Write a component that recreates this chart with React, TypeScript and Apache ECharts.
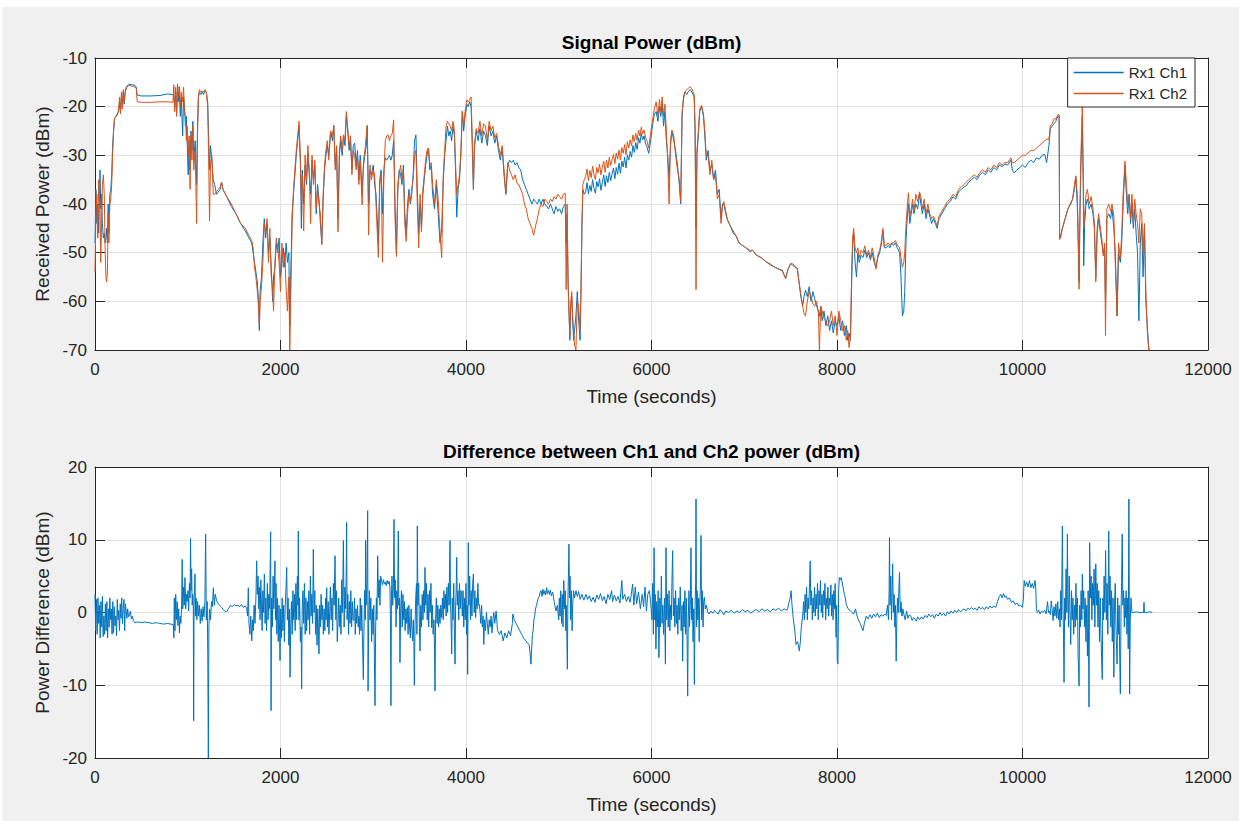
import React, { useEffect, useRef } from "react";
import * as echarts from "echarts";

// ---------- Signal power (top plot) ----------
const timeTop: number[] = [
  0, 10, 20, 30, 40, 54, 62, 70, 80, 90,
  100, 110, 118, 126, 134, 142, 150, 160, 170, 180,
  190, 200, 210, 225, 240, 255, 265, 275, 285, 295,
  305, 315, 325, 335, 345, 360, 380, 400, 430, 445,
  455, 500, 600, 700, 780, 840, 850, 860, 870, 880,
  890, 900, 910, 920, 930, 945, 955, 965, 975, 985,
  995, 1005, 1015, 1025, 1035, 1045, 1055, 1065, 1080, 1096,
  1105, 1115, 1125, 1140, 1155, 1170, 1185, 1200, 1215, 1225,
  1235, 1245, 1260, 1275, 1290, 1310, 1330, 1350, 1365, 1380,
  1420, 1470, 1520, 1570, 1620, 1660, 1690, 1705, 1720, 1735,
  1750, 1760, 1772, 1780, 1795, 1810, 1825, 1840, 1855, 1870,
  1885, 1900, 1915, 1925, 1940, 1955, 1970, 1985, 2000, 2015,
  2030, 2045, 2060, 2075, 2090, 2100, 2110, 2125, 2140, 2155,
  2170, 2185, 2200, 2215, 2225, 2235, 2250, 2265, 2280, 2295,
  2310, 2325, 2340, 2355, 2370, 2385, 2400, 2415, 2430, 2445,
  2460, 2475, 2490, 2505, 2520, 2540, 2560, 2575, 2590, 2605,
  2620, 2635, 2650, 2665, 2680, 2695, 2710, 2725, 2740, 2755,
  2770, 2785, 2800, 2815, 2830, 2845, 2860, 2880, 2895, 2910,
  2925, 2935, 2950, 2965, 2980, 3000, 3015, 3030, 3055, 3070,
  3085, 3100, 3115, 3130, 3145, 3160, 3175, 3190, 3205, 3220,
  3235, 3250, 3265, 3280, 3295, 3310, 3325, 3340, 3355, 3370,
  3385, 3400, 3415, 3430, 3445, 3460, 3475, 3490, 3505, 3520,
  3535, 3550, 3565, 3580, 3595, 3610, 3625, 3640, 3660, 3680,
  3700, 3720, 3738, 3755, 3770, 3785, 3800, 3815, 3830, 3845,
  3860, 3875, 3890, 3900, 3915, 3930, 3945, 3960, 3975, 3990,
  4010, 4025, 4040, 4055, 4070, 4080, 4090, 4110, 4130, 4150,
  4170, 4190, 4210, 4230, 4250, 4270, 4290, 4310, 4330, 4350,
  4370, 4390, 4410, 4430, 4450, 4470, 4490, 4510, 4530, 4550,
  4570, 4590, 4610, 4630, 4650, 4670, 4690, 4710, 4730, 4750,
  4770, 4790, 4810, 4830, 4850, 4870, 4890, 4910, 4930, 4950,
  4970, 4990, 5010, 5030, 5050, 5070, 5080, 5090, 5100, 5110,
  5120, 5130, 5140, 5150, 5160, 5170, 5185, 5200, 5215, 5230,
  5240, 5250, 5260, 5275,
  5290, 5305, 5320, 5335, 5350, 5365, 5380, 5395, 5410, 5425,
  5440, 5455, 5470, 5485, 5500, 5515, 5530, 5545, 5560, 5575,
  5590, 5605, 5620, 5635, 5650, 5665, 5680, 5695, 5710, 5725,
  5740, 5755, 5770, 5785, 5800, 5815, 5830, 5845, 5860, 5875,
  5890, 5905, 5920, 5935, 5950, 5970, 5990, 6010,
  6030, 6050, 6070, 6085, 6100, 6115, 6130, 6145, 6160, 6175,
  6190, 6205, 6220, 6240, 6260, 6280, 6300, 6315, 6330, 6345,
  6360, 6380, 6400, 6420, 6440, 6460, 6470, 6480, 6490, 6505,
  6520, 6540, 6560, 6575, 6590, 6610, 6630, 6650, 6670, 6690,
  6710, 6730, 6750, 6765, 6780, 6800, 6820, 6850, 6880, 6910,
  6945, 6980, 7020, 7060, 7090, 7130, 7180, 7230, 7280, 7330,
  7380, 7410, 7446, 7470, 7500, 7520, 7545, 7572, 7590, 7610,
  7630, 7645, 7660, 7680, 7700, 7720, 7740, 7760, 7780, 7800,
  7810, 7825, 7840, 7860, 7880, 7900, 7920, 7940, 7960, 7980,
  8000, 8020, 8040, 8060, 8080, 8100, 8115, 8130, 8145, 8160,
  8170, 8180, 8195, 8210, 8225, 8240, 8260, 8280, 8300, 8320,
  8340, 8360, 8380, 8400, 8420, 8440, 8460, 8480, 8495, 8510,
  8530, 8550, 8570, 8590, 8610, 8630, 8650, 8675, 8690, 8705,
  8720, 8730, 8745, 8760, 8770, 8785, 8800, 8815, 8830, 8850,
  8870, 8890, 8905, 8920, 8940, 8960, 8980, 9000, 9020, 9040,
  9060, 9080, 9100, 9130, 9160, 9190, 9220, 9250, 9280, 9310,
  9340, 9370, 9390, 9420, 9450, 9480, 9510, 9540, 9570, 9600,
  9630, 9660, 9690, 9720, 9750, 9780, 9810, 9840, 9875, 9890,
  9910, 9940, 9970, 10000, 10030, 10060, 10090, 10120, 10150, 10180,
  10210, 10240, 10260, 10285, 10300, 10320, 10340, 10360, 10380, 10395,
  10400, 10410, 10430, 10460, 10490, 10520, 10540, 10560, 10575, 10590,
  10600, 10610, 10620, 10630, 10645, 10655, 10660, 10670, 10685, 10700,
  10720, 10740, 10760, 10775, 10790, 10805, 10820, 10840, 10855, 10870,
  10885, 10895, 10910, 10930, 10950, 10965, 10985, 11000, 11020, 11035,
  11055, 11070, 11085, 11105, 11120, 11135, 11150, 11165, 11180, 11195,
  11210, 11225, 11240, 11255, 11270, 11285, 11300, 11315, 11330, 11345,
  11360, 11370,
];

const rx1Ch1: number[] = [
  -48, -37, -44, -40, -46, -33, -41, -38, -44, -47,
  -46, -48, -47, -45, -48, -40, -46, -38, -37, -34,
  -28, -25, -22.5, -22, -21.5, -21, -19, -21, -18, -20,
  -17, -19.5, -17, -16, -15.8, -15.5, -15.4, -15.5, -15.6, -16,
  -17.6, -17.8, -17.8, -17.7, -17.4, -17.5, -18, -20, -17, -21,
  -16, -19, -17, -22, -18, -26, -18, -20, -24, -22,
  -28, -34, -27, -33, -25, -29, -23, -31, -27, -36,
  -24, -18, -17, -17.5, -17, -17.5, -16.8, -17, -19, -26,
  -33, -28, -31, -35, -36, -38, -37.5, -37, -35.5, -37,
  -38.5, -40.5, -42, -44, -45.5, -47, -48, -50, -52, -54,
  -56, -59, -66, -58, -55, -48, -43, -47, -44, -50,
  -47, -53, -60, -55, -53, -48, -50, -47, -55, -52,
  -49, -53, -48, -52, -50, -65, -55, -42, -38, -34,
  -30, -27, -24, -32, -45, -33, -40, -32, -36, -30,
  -34, -38, -31, -35, -32, -42, -36, -39, -44, -48,
  -39, -33, -30, -28, -30, -25, -27, -24, -32, -29,
  -43, -30, -27, -30, -26, -28, -22, -25, -29, -27,
  -33, -28, -27.5, -32, -29, -35, -30, -38, -32, -30,
  -28, -24, -40, -33, -34, -32, -36, -38, -48, -35,
  -33, -42, -33, -30.5, -31, -30.5, -30, -31, -30, -27,
  -40, -50, -36, -33, -34, -36, -32, -42, -46, -40,
  -37, -40, -38, -34, -27, -25.8, -37, -46, -40, -45,
  -38, -35, -32, -30, -28.5, -33, -32, -38, -41, -36,
  -42, -48, -45, -35, -30, -27, -24, -26, -25, -27,
  -24, -26, -35, -42.7, -37, -35, -30, -21, -25, -22,
  -19.5, -20, -19, -20, -30, -37, -28, -25, -27, -24.5,
  -27.5, -25, -26, -28, -24, -26, -25, -27.5, -26, -29,
  -31, -28.5, -34, -38, -32, -31, -31.5, -31, -32, -31.5,
  -32.5, -33, -35, -36, -37, -38, -39, -40, -39, -39.5,
  -40, -39, -40, -39, -40, -40.5, -41, -40, -41, -42,
  -40.5, -41.5, -41, -42, -40.5, -40, -48, -42, -55, -62,
  -68, -61, -59, -64, -68, -66, -63, -58, -64, -68,
  -58, -45, -37, -38,
  -37.5, -35.6, -37.9, -36.2, -37.4, -35.0, -36.8, -37.8, -35.4, -36.5,
  -34.8, -37.2, -35.6, -34.0, -36.4, -34.2, -35.6, -33.5, -35.2, -33.8,
  -32.6, -34.8, -32.5, -33.9, -31.6, -33.7, -31.2, -32.4, -30.4, -32.6,
  -29.9, -31.0, -29.2, -30.4, -28.0, -29.4, -27.4, -28.8, -26.4, -27.5,
  -25.5, -26.8, -26.0, -27.6, -28.2, -29.6, -27, -24,
  -21.5, -21, -23, -20, -22, -19.5, -24, -21, -27, -30,
  -35, -28, -25, -27, -29, -32, -36, -40, -22, -18,
  -17, -17.5, -16.8, -16.5, -17.2, -18, -25, -45, -30, -26,
  -21, -20, -22, -26, -31, -29, -33, -32, -35, -33,
  -38, -37, -43, -40, -40, -42, -43.3, -44.5, -46, -46.5,
  -48, -48.5, -49, -49.8, -49.5, -50.5, -51, -51.8, -52.5, -53,
  -53.4, -53.6, -55.3, -53.5, -52.2, -52.5, -53, -53.2, -56, -59,
  -61, -59, -57.7, -59, -57, -60, -58, -59.5, -61, -62,
  -63, -61, -64, -62, -65, -63, -66, -64, -66.5, -64,
  -65, -63, -66, -64, -67, -65, -68, -66.5, -68, -55,
  -48, -46, -52, -55, -50, -52, -50.5, -51, -49.5, -51,
  -50, -51.5, -50, -52, -53, -51, -50, -48, -45.5, -49,
  -49, -48.5, -49, -48, -48.5, -48, -49, -50, -55, -63,
  -62, -58, -47, -42, -40, -44, -42, -40, -42, -40,
  -41, -38, -40, -42, -40, -43, -41, -42.5, -44, -43,
  -44, -45, -43, -42, -41, -40, -39.5, -38.5, -39, -37.5,
  -37, -36.5, -36.3, -35.5, -35, -34.5, -35, -34, -33.5, -34,
  -33, -33.5, -32.5, -33, -32, -32.3, -31.8, -32, -31, -33,
  -33.6, -33, -32.5, -32, -32.5, -31.5, -31, -31.5, -30.5, -30.8,
  -30, -29.8, -31.5, -28, -24.5, -24, -23.5, -23, -22, -22,
  -47, -47, -45, -43, -41, -40, -39, -37, -34.5, -40,
  -48, -56, -42, -32, -22, -36, -52.7, -44, -40, -39,
  -41, -40, -42, -45, -55, -46, -43, -46, -48, -50,
  -49, -60, -43, -42, -43, -41, -45, -50, -63, -50,
  -52, -48, -40, -32, -38, -42, -38, -44, -40, -45,
  -41, -46, -50, -64, -48, -44, -55, -45, -60, -65,
  -69, -71,
];

const rx1Ch2: number[] = [
  -54, -42, -38, -47, -35, -40, -52, -45, -36, -34,
  -38, -50, -55, -56, -54, -42, -48, -40, -39, -36,
  -30, -25, -22.5, -22, -21.8, -20.5, -18, -21.5, -17, -20.5,
  -16.5, -19, -17, -16.5, -16, -15.7, -15.6, -15.8, -16, -16.2,
  -19, -19.1, -19.1, -19, -19, -19.1, -15.5, -21, -16, -22,
  -15.3, -18, -15.8, -20, -17, -19, -16, -21, -22, -27,
  -24, -30, -26, -37, -26, -31, -24, -33, -29, -44,
  -26, -18, -16.5, -17, -16.8, -17, -16.5, -17, -20, -30,
  -43.5, -32, -30, -38, -38, -37.5, -37, -36.5, -35.5, -37,
  -38.5, -40, -42, -44, -45, -46.5, -47.5, -49, -53, -55,
  -58, -60, -65, -60, -57, -52, -44, -46, -43, -52,
  -45, -55, -57, -62, -52, -47, -49, -52, -58, -48,
  -53, -50, -57, -62, -55, -70, -60, -44, -37, -33,
  -29, -26, -23, -31, -38, -34, -45.5, -30, -35, -28,
  -33, -44, -30, -36, -31, -41, -37, -40, -42, -48.4,
  -38, -32, -29, -27, -31, -25, -26, -23.8, -33, -28,
  -45.7, -29, -26, -29, -25.8, -27, -21, -24.5, -28, -26,
  -34, -29, -30, -33, -30, -36, -31, -40.2, -31, -29,
  -26, -23.8, -46.4, -32, -35, -33, -34, -40, -51, -36,
  -34, -52, -34, -27, -26, -25.8, -27, -26, -25.5, -22.7,
  -43, -50.8, -37, -34, -32, -35, -33, -44, -47.7, -42,
  -38, -39.5, -37, -35, -30, -29, -40, -49, -38, -45.7,
  -37, -34, -31, -29, -28.5, -32, -31.5, -36, -40, -35,
  -39, -46, -51, -34, -29, -24, -23, -23.5, -24, -25,
  -23, -25, -33, -38, -36, -34, -29, -21, -24, -21,
  -18.6, -19, -18.5, -18, -28, -37, -29, -24.5, -25.5, -23,
  -26, -23.5, -24, -27, -23, -25, -24, -26.5, -25.5, -28,
  -30, -28, -33, -38, -31.5, -33, -34, -35, -34, -35.8,
  -36, -37, -38, -40, -41, -43, -44, -45, -46.4, -44.5,
  -43, -41, -40, -40.5, -39, -39.5, -40, -39, -39.5, -38.5,
  -39, -38, -38.5, -39, -38, -37.8, -57.6, -40, -56, -62,
  -67, -60, -58, -63, -66, -69, -70, -60, -61, -66,
  -57, -44, -36, -35,
  -34.4, -32.8, -35.2, -33.1, -34.6, -32.2, -33.9, -35.0, -32.5, -33.6,
  -31.8, -34.0, -32.4, -31.2, -33.5, -31.0, -32.6, -30.4, -32.1, -30.9,
  -29.8, -31.7, -29.5, -30.8, -28.9, -31.0, -28.4, -29.6, -27.8, -29.9,
  -27.2, -28.5, -26.8, -28.0, -25.8, -27.2, -25.5, -26.9, -24.8, -26.0,
  -24.2, -25.6, -24.8, -26.3, -27.0, -28.5, -25.5, -23,
  -20.5, -19, -22, -18.5, -21, -18, -22, -19.5, -25, -31,
  -40, -27, -24.8, -26, -30, -33, -35, -39.5, -21, -18.5,
  -17, -16.5, -16.2, -15.9, -16.5, -17.5, -24, -57.6, -29, -25,
  -20.5, -19.7, -21.5, -25, -30, -30, -34, -31, -35, -34,
  -39, -38, -44, -40.5, -39.5, -41.5, -43.3, -44.5, -45.5, -46.5,
  -48, -48.5, -49, -49.5, -49.5, -50.5, -51, -51.8, -52.3, -53,
  -53.5, -53.8, -55.3, -53.5, -52.4, -52.2, -52.8, -53.2, -56, -58.5,
  -61, -62.5, -63, -60, -58, -59, -60.5, -61, -60, -62.5,
  -70, -61, -62, -63.5, -64, -65, -64, -62, -65, -63,
  -67, -62, -64, -66, -65, -68, -66, -69.5, -67, -52,
  -46.6, -45, -49, -50, -49, -51, -49.5, -50, -48.6, -50.5,
  -49.5, -51, -49, -51, -53.4, -50.5, -49.5, -47.5, -45, -48.5,
  -48.5, -48, -48.5, -48, -48, -47.5, -48.5, -49, -51, -53,
  -52, -50, -44, -40, -37.7, -42.5, -41, -39, -41.5, -38,
  -39.5, -37.5, -38.5, -41, -39, -42, -40, -42, -43, -42.5,
  -43.5, -44.5, -42.5, -41.5, -40.5, -39.5, -39, -38, -38.5, -37,
  -36.5, -36, -35.6, -35, -34.5, -34, -34.5, -33.5, -33, -33.5,
  -32.5, -33, -32, -32.5, -31.5, -32, -31.5, -31.5, -30.5, -31.5,
  -31.5, -31, -30.5, -30, -30, -29.5, -29, -29, -28.5, -28,
  -27.5, -27, -26.7, -26.7, -24, -23.5, -22.5, -22.5, -21.7, -21.6,
  -47.3, -46.6, -45, -43, -41, -39.7, -39, -36, -34.2, -38,
  -45, -57.5, -40, -30, -19.9, -34, -45, -42, -38, -37,
  -40, -38.5, -41, -44, -56, -45, -42, -45, -47, -50.7,
  -48, -67, -41, -40, -41.5, -40, -42.5, -52, -63, -48,
  -51, -46, -38, -31.2, -36, -40, -38, -43, -38, -44,
  -39, -42, -44, -48, -41, -42, -50, -44, -58, -65.8,
  -70, -72,
];

// ---------- Power difference (bottom plot) ----------
const timeDiff: number[] = [
  0, 8, 16, 24, 32, 40, 48, 56, 64, 72,
  80, 88, 96, 104, 112, 120, 128, 136, 144, 152,
  160, 168, 176, 184, 192, 200, 208, 216, 224, 232,
  240, 248, 256, 264, 272, 280, 288, 296, 304, 312,
  320, 328, 336, 344, 352, 362, 372, 382, 392, 402,
  414, 428, 460, 500, 540, 580, 620, 660, 700, 740,
  780, 820, 845, 850, 855, 862, 870, 878, 886, 894,
  902, 910, 918, 926, 934, 940, 946, 954, 962, 970,
  978, 986, 994, 1002, 1010, 1018, 1025, 1030, 1036, 1042,
  1048, 1054, 1060, 1064, 1068, 1072, 1078, 1084, 1090, 1098,
  1106, 1115, 1125, 1135, 1145, 1155, 1165, 1175, 1185, 1193,
  1200, 1210, 1216, 1222, 1228, 1236, 1246, 1256, 1266, 1276,
  1286, 1296, 1312, 1330, 1350, 1366, 1384, 1400, 1420, 1438,
  1460, 1480, 1500, 1520, 1540, 1560, 1580, 1600, 1620, 1635,
  1645, 1653, 1660, 1670, 1680, 1690, 1700, 1707, 1715, 1725,
  1735, 1743, 1750, 1758, 1765, 1772, 1780, 1788, 1795, 1802,
  1810, 1818, 1826, 1834, 1842, 1850, 1858, 1866, 1874, 1882,
  1888, 1894, 1898, 1904, 1912, 1920, 1928, 1934, 1940, 1946,
  1952, 1960, 1968, 1976, 1984, 1990, 1995, 2002, 2010, 2018,
  2026, 2034, 2042, 2050, 2058, 2067, 2074, 2082, 2090, 2096,
  2103, 2110, 2118, 2126, 2134, 2142, 2150, 2158, 2166, 2174,
  2182, 2188, 2192, 2198, 2206, 2214, 2222, 2228, 2234, 2242,
  2250, 2258, 2266, 2274, 2282, 2290, 2298, 2306, 2314, 2322,
  2330, 2338, 2346, 2354, 2362, 2370, 2378, 2386, 2394, 2402,
  2408, 2415, 2422, 2430, 2438, 2446, 2454, 2462, 2470, 2478,
  2486, 2492, 2498, 2506, 2514, 2522, 2530, 2538, 2546, 2554,
  2562, 2570, 2578, 2588, 2596, 2604, 2612, 2620, 2628, 2636,
  2644, 2652, 2660, 2668, 2678, 2686, 2694, 2702, 2708, 2713,
  2718, 2726, 2734, 2742, 2750, 2758, 2767, 2775, 2782, 2790,
  2798, 2806, 2814, 2822, 2830, 2838, 2846, 2852, 2860, 2868,
  2876, 2884, 2893, 2900, 2908, 2914, 2918, 2924, 2932, 2940,
  2944, 2950, 2958, 2966, 2974, 2982, 2990, 2998, 3006, 3012,
  3019, 3026, 3034, 3040, 3048, 3056, 3064, 3072, 3080, 3090,
  3100, 3110, 3120, 3130, 3140, 3150, 3160, 3170, 3180, 3186,
  3191, 3196, 3202, 3210, 3218, 3224, 3230, 3238, 3246, 3254,
  3262, 3270, 3276, 3282, 3288, 3296, 3304, 3312, 3320, 3328,
  3336, 3344, 3352, 3360, 3368, 3376, 3384, 3392, 3400, 3408,
  3416, 3424, 3432, 3438, 3443, 3450, 3458, 3466, 3471, 3475,
  3482, 3490, 3498, 3504, 3512, 3520, 3528, 3536, 3544, 3552,
  3558, 3566, 3574, 3582, 3590, 3598, 3606, 3614, 3622, 3630,
  3638, 3646, 3654, 3660, 3666, 3672, 3680, 3688, 3696, 3704,
  3712, 3720, 3728, 3738, 3746, 3754, 3762, 3770, 3778, 3786,
  3794, 3802, 3810, 3818, 3822, 3828, 3834, 3840, 3846, 3852,
  3860, 3868, 3874, 3882, 3888, 3894, 3900, 3906, 3914, 3922,
  3930, 3938, 3946, 3953, 3960, 3968, 3976, 3984, 3992, 4000,
  4006, 4012, 4018, 4025, 4032, 4040, 4048, 4056, 4064, 4072,
  4080, 4088, 4096, 4104, 4112, 4120, 4128, 4136, 4144, 4152,
  4160, 4168, 4176, 4184, 4192, 4200, 4210, 4220, 4230, 4240,
  4250, 4260, 4270, 4280, 4290, 4300, 4310, 4325, 4340, 4360,
  4380, 4400, 4420, 4440, 4460, 4480, 4500, 4505, 4520, 4540,
  4560, 4580, 4600, 4620, 4640, 4660, 4680, 4690, 4700, 4708,
  4716, 4724, 4732, 4740, 4750, 4760, 4770, 4780, 4790, 4800,
  4810, 4820, 4830, 4840, 4850, 4860, 4870, 4880, 4890, 4900,
  4910, 4920, 4935, 4950, 4970, 4985, 5000, 5006, 5014, 5022,
  5030, 5038, 5046, 5054, 5062, 5070, 5076, 5082, 5088, 5093,
  5098, 5104, 5110, 5116, 5122, 5128, 5136, 5144, 5150, 5160,
  5170, 5186, 5200, 5215, 5230, 5250, 5270, 5294, 5310, 5330,
  5350, 5370, 5390, 5410, 5430, 5450, 5470, 5490, 5510, 5530,
  5550, 5570, 5580, 5600, 5620, 5640, 5660, 5680, 5690, 5710,
  5730, 5750, 5770, 5797, 5810, 5825, 5840, 5860, 5880, 5900,
  5915, 5930, 5945, 5960, 5977, 5990, 6005, 6013, 6020, 6028,
  6034, 6040, 6048, 6056, 6064, 6072, 6080, 6090, 6098, 6106,
  6114, 6122, 6130, 6140, 6150, 6156, 6164, 6172, 6180, 6190,
  6198, 6206, 6214, 6220, 6228, 6236, 6244, 6252, 6260, 6268,
  6276, 6284, 6292, 6300, 6310, 6320, 6330, 6336, 6344, 6352,
  6360, 6368, 6376, 6384, 6390, 6396, 6404, 6410, 6418, 6426,
  6432, 6440, 6448, 6456, 6462, 6470, 6476, 6480, 6486, 6492,
  6500, 6508, 6514, 6520, 6526, 6534, 6540, 6548, 6556, 6562,
  6570, 6580, 6590, 6606, 6620, 6640, 6660, 6680, 6700, 6720,
  6740, 6760, 6780, 6800, 6830, 6860, 6890, 6920, 6950, 6980,
  7010, 7040, 7070, 7100, 7130, 7160, 7190, 7220, 7250, 7280,
  7310, 7340, 7370, 7400, 7430, 7460, 7470, 7485, 7495, 7505,
  7515, 7530, 7545, 7558, 7575, 7594, 7605, 7615, 7630, 7640,
  7648, 7656, 7664, 7672, 7680, 7688, 7696, 7704, 7711, 7718,
  7726, 7734, 7742, 7750, 7758, 7766, 7774, 7782, 7790, 7798,
  7806, 7814, 7822, 7830, 7838, 7846, 7854, 7862, 7870, 7878,
  7886, 7894, 7902, 7910, 7918, 7926, 7934, 7942, 7950, 7958,
  7966, 7974, 7980, 7990, 7996, 8003, 8010, 8018, 8025, 8035,
  8045, 8055, 8065, 8080, 8090, 8100, 8120, 8140, 8160, 8180,
  8200, 8210, 8230, 8250, 8265, 8280, 8295, 8315, 8335, 8355,
  8375, 8395, 8415, 8435, 8455, 8475, 8495, 8515, 8530, 8545,
  8555, 8562, 8566, 8572, 8580, 8588, 8595, 8600, 8608, 8616,
  8624, 8630, 8638, 8645, 8652, 8660, 8668, 8674, 8682, 8690,
  8700, 8710, 8720, 8735, 8750, 8765, 8780, 8795, 8810, 8825,
  8840, 8855, 8870, 8890, 8910, 8930, 8950, 8970, 8990, 9010,
  9030, 9050, 9070, 9090, 9110, 9130, 9150, 9170, 9190, 9210,
  9230, 9250, 9270, 9290, 9310, 9330, 9350, 9370, 9390, 9410,
  9430, 9450, 9470, 9490, 9510, 9530, 9550, 9570, 9590, 9610,
  9630, 9650, 9670, 9690, 9713, 9730, 9750, 9765, 9780, 9795,
  9810, 9820, 9840, 9860, 9880, 9900, 9920, 9940, 9960, 9980,
  10000, 10010, 10018, 10030, 10045, 10060, 10075, 10090, 10105, 10120,
  10135, 10143, 10150, 10160, 10175, 10190, 10205, 10220, 10240, 10255,
  10270, 10280, 10290, 10300, 10310, 10320, 10330, 10340, 10350, 10360,
  10370, 10380, 10390, 10398, 10405, 10412, 10420, 10430, 10436, 10442,
  10448, 10455, 10462, 10470, 10478, 10484, 10490, 10496, 10504, 10512,
  10520, 10528, 10536, 10544, 10552, 10560, 10568, 10576, 10584, 10592,
  10600, 10610, 10616, 10624, 10632, 10640, 10645, 10652, 10660, 10668,
  10676, 10684, 10692, 10700, 10708, 10717, 10724, 10732, 10740, 10748,
  10756, 10764, 10772, 10780, 10790, 10798, 10806, 10814, 10822, 10830,
  10838, 10846, 10852, 10860, 10866, 10872, 10880, 10888, 10896, 10904,
  10912, 10920, 10930, 10936, 10944, 10952, 10960, 10968, 10976, 10985,
  10992, 11000, 11008, 11014, 11020, 11026, 11034, 11042, 11048, 11055,
  11062, 11068, 11075, 11082, 11090, 11098, 11104, 11110, 11118, 11126,
  11134, 11140, 11147, 11152, 11155, 11162, 11170, 11180, 11200, 11230,
  11260, 11290, 11305, 11310, 11315, 11340, 11370, 11400,
];

const powerDiff: number[] = [
  2.5, -2.5, 1.8, -3, 2, -1.5, 1, -3.5, 1.5, -2,
  2.2, -3.3, -0.5, -3, 1.2, -2.5, 1.5, -3.5, 0.5, -2,
  2, -1, 0.5, -3, 1.5, -2.8, 0.8, -1.8, -0.5, -3.2,
  1.8, -1, 0.3, -2.5, 1.2, -0.8, 2, -1.5, 0.5, 1.8,
  -2.5, 1.2, 0.2, -0.8, 0.5, -0.6, -0.3, 0.2, -0.9, -0.5,
  -1.1, -1.4, -1.3, -1.4, -1.3, -1.4, -1.5, -1.4, -1.5, -1.6,
  -1.5, -1.6, -1.7, -3.5, 2, -2.5, 2.5, -1, 1.5, -1.8,
  0.5, -2.8, -0.5, -1.5, 1, 7.3, 0.5, 3.5, 1, 4.8,
  0.5, 2.5, 1.5, 3, 0.2, 4, 2, 10.2, 3, 6,
  1, 2.5, 0.5, -14.9, 1, 3, 5.3, -0.5, 2, -1,
  1.5, -0.5, 1, -1.5, 0.5, -1.2, 0.8, -0.6, 1.5, 10.8,
  -1, 1.5, -6, -20, -2, 0.5, -1, 1.5, 0.8, 3.4,
  1, 2.5, 1.6, 1.2, 0.9, 0.7, 0.4, 0.2, 0.1, 0.5,
  1, 0.8, 1.1, 0.9, 1, 0.8, 1.1, 0.7, 0.9, 0.6,
  -0.5, 3.4, -1.5, -3, -0.5, -3.9, -1, -2.5, 1, -1.5,
  2, 7.1, 2.5, 5, 0.5, 3.5, -1, 4.5, 1, -2.5,
  3, 0, 5.3, -1.5, 2, -2.5, 4, -1, 2.5, 0.5,
  6, 11.1, -13.5, 2, -2, 5, 0.5, 3, 7.1, -1,
  4, -3, 2, -4, 1, -2.5, -6.6, 0.5, -3.5, 2,
  -2.5, 1, -4, 0.5, 3, 6.2, -1, 2, -4.5, 0.5,
  -8.9, -2, 1.5, -3, 3, -1, 2.5, -2.5, 4, -1,
  5, 1, 11.2, -1, 2, -4, -2, -10.5, 0.5, 3,
  -1.5, 4, -3, 2, -2.5, 1.5, -1, 3, -3, 5,
  -0.5, 2.5, -1.5, 8.7, 0, 3, -3, 1, -4.5, 0.5,
  -2, -5.7, 1, -2, 2.5, -1, 1, -3, 0.5, -2.5,
  2, -1, 3.4, -2, 1.5, -3, 0, 3.5, -1, 2,
  -2.5, 4, 1, 7.8, -1, 3, -4, -1.5, 2, -2,
  1, -3, 4.5, 0, 9.9, -2, 3.5, 0.5, 5, 12.4,
  -1, 2.5, -3, 1.5, -1.5, 3, -2, 1.5, -1, -1.1,
  2, -3, 0.5, -1.5, 1, -2, -0.5, -3, 2, -2.5,
  1, -4, -9.2, -2, 3, -1, 9.9, 1, 4, 14,
  -10.8, -2, 3, -1, 2, -4, 0.5, -3, 1, -6,
  -12.8, -2, 2, -1, 7.8, 2, 4.5, 1, 5, 4.3,
  3.8, 4.5, 3.9, 4.2, 3.7, 4.4, 3.9, 4.3, 3.5, -2,
  -12.8, 2, 5, 1, 4, 12.8, 2, 4.5, -2, 3,
  0.5, 11.2, 1, 2, -6.9, 0.5, 3, -2, 2.5, -1,
  1.5, -2.5, 0.5, -1.5, 0.7, -3, 1, -2, -3.5, 0.5,
  -2, -3.9, -1, -4, -10, -2, 2, 4, -3, 11.9,
  1, 4, -2, -5.3, 1, -2, 2.5, -1, 3, 0,
  6.2, 1, 4, -1, 2.5, -2, 3, 0, 4, -2.1,
  1, -3, -1, -5, -10.8, -1, 2, -1.5, 1, -2,
  0.5, -1.5, 1, -0.7, 2, -1, 3, 0.5, 2.5, -0.5,
  3.5, 0, 4, 1, 6, 9.9, 1, -2, -5.7, 2,
  -1, 4, -2, -7.1, 1, 3, 7.6, 1, 3, -1,
  4, 0.5, 3, 2.5, -0.5, 3, -2, 2, -1, 4,
  -3, 1, -8.5, 9.6, 1, 5, -1, 3, -0.5, 4,
  5.3, 0, 3, -0.7, 2, 0.5, 4, 1, 1.1, 0,
  -1.5, 1, -2, -0.5, -4.4, -1, -2.5, 0, -1.5, -3,
  -1, -2, -0.5, -2.8, -1, 0, -1.5, 0.2, -2.5, -3,
  -2.5, -3.9, -2.8, -3.5, -2.5, -3.2, -1.5, -0.2, -1, -1.5,
  -2, -2.5, -3, -3.5, -3.8, -4.2, -4.4, -5.5, -7.1, -5,
  -3, -2.5, -1, -0.5, 0.5, 1, 1.5, 2, 2.2, 2.8,
  3, 2.2, 3.2, 2.5, 3, 2.4, 3.4, 2.6, 3, 2.5,
  3.1, 2.3, 2.8, 1.5, 0.2, 1, -1, 2, -0.5, 3,
  -1.5, 2.5, -2, 4.4, 0.5, 3, -2.5, 1, -4, -7.8,
  1, 5, 9.4, 2, 5, -1, 3, -2.5, 1, 3,
  2, 3, 2.2, 2.9, 1.8, 2.5, 1.7, 2.5, 1.8, 2.3,
  1.5, 2.1, 1.4, 2.4, 1.8, 2.6, 1.6, 2.2, 1.2, 2.5,
  1.8, 3, 1.5, 2.4, 1.6, 2.2, 1.3, 4.4, 1.8, 2.5,
  1.5, 2.2, 1.4, 3.9, 1, 3.5, 1.2, 2.8, 0.5, 2.5,
  0.8, 3.5, 0.2, 2.5, 3, 1.5, -1, 4, -3, 8.9,
  -1, 2.5, -5, 1.5, -2, 3, -6.2, 2, -2, 5,
  -1.5, 1, -3, 2, -7.1, 8.9, -1, 2.5, -2, 3,
  -2.5, 1, -1, 4, 8.5, -0.5, 2, -2, 3, -1.5,
  1, -3, 2, -1, 3.5, -2.5, 1, -6.7, 1.5, -2,
  3, -3, 2, -4, -11.5, -1, 3, -2, 1, 8.9,
  -1, 2, -4, 0.5, -9.9, 1, 4, 15.6, -2, 3,
  -1, 2, -4, 1, 3, 10.6, -1, 3, -2, 1.5,
  2.1, 0.5, 1, 0.1, -0.2, 0.2, -0.1, 0.3, 0, -0.2,
  0.4, 0.1, -0.3, 0.2, 0, 0.3, -0.1, 0.2, 0, 0.4,
  0.1, 0.3, -0.1, 0.2, 0.4, 0.1, 0.5, 0.2, 0.4, 0.1,
  0.5, 0.3, 0.6, 0.2, 0.5, 0.3, 0.6, 1.5, 2, 3,
  1, -1, -2.5, -4.4, -4, -5.3, -4, -2, -0.5, 1.5,
  -1, 2.5, 0, 3.5, -1, 2, 0.5, 4, 7.1, 1,
  3, -1, 2, 0, 3.5, -0.5, 2.5, 0.5, 4, -1,
  3, 1, 4.4, 0, 2.5, -0.7, 3, 1, 4, -1,
  2, 0.5, 3.5, -0.5, 2, 1, 3.8, -0.5, 2.5, -1,
  3, 0.5, 4, -3.4, 1, -6.7, -7.1, 3, 4.8, 4.5,
  4.8, 4.2, 3.5, 2.5, 2, 1.1, 0.5, 0.3, 0, -0.2,
  0.5, -0.2, -1, -1.5, -2, -2.5, -1.5, -0.5, -0.9, -0.3,
  -0.8, -0.2, -0.6, -0.1, -0.7, -0.3, -0.5, -0.2, -0.4, 1,
  -1, 3, 10.3, 1, 5, -1, 3, 6.7, 0, 2.5,
  -2, 1, -6.7, -1, 2, 0, 3.5, 5.5, 0, 1.5,
  -0.5, 0.5, -0.2, -1, 0.2, -0.8, -0.3, -0.5, -1.1, -0.7,
  -0.9, -1.2, -0.6, -1, -0.6, -0.9, -0.4, -0.7, -0.2, -0.6,
  -0.3, -0.8, -0.2, -0.5, 0, -0.4, -0.1, -0.5, 0.1, -0.2,
  0.2, -0.1, 0.3, 0, 0.4, 0.1, 0.3, 0.5, 0.2, 0.6,
  0.4, 0.7, 0.4, 0.6, 0.3, 0.8, 0.5, 0.7, 0.4, 0.8,
  0.5, 0.9, 0.6, 0.9, 0.7, 1.5, 2.2, 2.5, 2, 2.6,
  2.1, 2.3, 1.8, 2, 1.4, 1.6, 1.1, 1.3, 0.9, 1,
  0.7, 2, 4.4, 3.6, 4.2, 3.5, 4.4, 3.4, 4, 3.3,
  4.4, 3.4, 0.5, 0, 0.3, -0.2, 0.2, 0, 0.3, -0.2,
  1.5, 0, 0.2, -0.3, 1.6, 0.5, -1.1, 0.8, -0.5, 1.2,
  -0.8, 1.5, -1, 0.5, -2, 3, -1, 11.9, 1, -3,
  -9.6, 2, -1, 6, 0, 10.8, 2, -2, 5, 0,
  -4.4, 3, -1, 2, -3, 1, -2, 4, -1, 2,
  -6, -10.1, 1, -2, 3, -1, 5.3, 0.5, 3, -2,
  2, -4, 1, -6, 3, -13, 9.6, 2, 5, -1,
  4, 1, 6, -2, 6.7, 1, 4, -2, 3, -4,
  2, -3, -6, -9.2, 2, -1, 5, 0, 8.5, -1,
  4, -3, 11.2, 1, 5, -2, 3, -4, 2, -8.9,
  1, 4, -2, -5, -7.1, 2, -3, 1, -6, -11.2,
  0, 4, 10.8, 1, 3, -2, 2, -0.7, 3, -3,
  2, -5, 15.6, 0, -11.2, -1, 2, 0, 0, 0.1,
  0, 0, 0, 1.4, 0, 0, 0.1, 0,
];

const xTicks = { min: 0, max: 12000, interval: 2000 };
const topYTicks = { min: -70, max: -10, interval: 10 };
const bottomYTicks = { min: -20, max: 20, interval: 10 };

const seriesNames = ["Rx1 Ch1", "Rx1 Ch2"];
const titles = ["Signal Power (dBm)", "Difference between Ch1 and Ch2 power (dBm)"];
const xName = "Time (seconds)";
const yNames = ["Received Power (dBm)", "Power Difference (dBm)"];

const FONT = '"Liberation Sans", Arial, Helvetica, sans-serif';
const INK = "#262626";
const GRID = "#e0e0e0";
const BLUE = "#0072BD";
const ORANGE = "#D95319";

function pairs(t: number[], v: number[]): number[][] {
  const n = Math.min(t.length, v.length);
  const out: number[][] = [];
  for (let i = 0; i < n; i++) out.push([t[i], v[i]]);
  return out;
}

const fmt = (v: number) => String(v);

function mainX(gridIndex: number) {
  return {
    type: "value",
    gridIndex,
    position: "bottom",
    ...xTicks,
    axisLine: { show: true, onZero: false, lineStyle: { color: INK, width: 1 } },
    axisTick: { show: true, inside: true, length: 10, lineStyle: { color: INK, width: 1 } },
    axisLabel: { color: INK, fontSize: 17, fontFamily: FONT, margin: 11, formatter: fmt },
    splitLine: { show: true, lineStyle: { color: GRID, width: 1 } },
    name: xName,
    nameLocation: "middle",
    nameGap: 37,
    nameTextStyle: { color: INK, fontSize: 19, fontFamily: FONT },
  };
}
function topX(gridIndex: number) {
  return {
    type: "value",
    gridIndex,
    position: "top",
    ...xTicks,
    axisLine: { show: true, onZero: false, lineStyle: { color: INK, width: 1 } },
    axisTick: { show: true, inside: true, length: 10, lineStyle: { color: INK, width: 1 } },
    axisLabel: { show: false },
    splitLine: { show: false },
  };
}
function mainY(gridIndex: number, ticks: any, name: string) {
  return {
    type: "value",
    gridIndex,
    position: "left",
    ...ticks,
    axisLine: { show: true, onZero: false, lineStyle: { color: INK, width: 1 } },
    axisTick: { show: true, inside: true, length: 10, lineStyle: { color: INK, width: 1 } },
    axisLabel: { color: INK, fontSize: 17, fontFamily: FONT, margin: 8, formatter: fmt },
    splitLine: { show: true, lineStyle: { color: GRID, width: 1 } },
    name,
    nameLocation: "middle",
    nameGap: 41,
    nameTextStyle: { color: INK, fontSize: 19, fontFamily: FONT },
  };
}
function rightY(gridIndex: number, ticks: any) {
  return {
    type: "value",
    gridIndex,
    position: "right",
    ...ticks,
    axisLine: { show: true, onZero: false, lineStyle: { color: INK, width: 1 } },
    axisTick: { show: true, inside: true, length: 10, lineStyle: { color: INK, width: 1 } },
    axisLabel: { show: false },
    splitLine: { show: false },
  };
}

export default function App() {
  const ref = useRef<HTMLDivElement | null>(null);

  useEffect(() => {
    if (!ref.current) return;
    const chart = echarts.init(ref.current, undefined, { renderer: "svg" });
    const option: any = {
      animation: false,
      backgroundColor: "#f0f0f0",
      graphic: [
        { type: "rect", z: -10, shape: { x: 0, y: 0, width: 1239, height: 7 }, style: { fill: "#ffffff" } },
        { type: "rect", z: -10, shape: { x: 0, y: 0, width: 2, height: 821 }, style: { fill: "#ffffff" } },
        {
          type: "text",
          x: 651.5,
          y: 42.5,
          style: {
            text: titles[0],
            fontSize: 19,
            fontWeight: "bold",
            fontFamily: FONT,
            fill: "#000",
            align: "center",
            verticalAlign: "middle",
          },
        },
        {
          type: "text",
          x: 651.5,
          y: 451.5,
          style: {
            text: titles[1],
            fontSize: 19,
            fontWeight: "bold",
            fontFamily: FONT,
            fill: "#000",
            align: "center",
            verticalAlign: "middle",
          },
        },
      ],
      grid: [
        { left: 95, top: 58, width: 1113, height: 292, show: true, backgroundColor: "#ffffff", borderWidth: 0 },
        { left: 95, top: 467, width: 1113, height: 291, show: true, backgroundColor: "#ffffff", borderWidth: 0 },
      ],
      xAxis: [mainX(0), topX(0), mainX(1), topX(1)],
      yAxis: [
        mainY(0, topYTicks, yNames[0]),
        rightY(0, topYTicks),
        mainY(1, bottomYTicks, yNames[1]),
        rightY(1, bottomYTicks),
      ],
      legend: {
        data: seriesNames.map((n) => ({ name: n, icon: "rect" })),
        orient: "vertical",
        right: 44,
        top: 58,
        backgroundColor: "#ffffff",
        borderColor: INK,
        borderWidth: 1,
        borderRadius: 0,
        padding: [7, 8, 6, 6],
        itemWidth: 50,
        itemHeight: 1.4,
        itemGap: 6,
        textStyle: { color: INK, fontSize: 15, lineHeight: 15, fontFamily: FONT },
        selectedMode: false,
      },
      series: [
        {
          type: "line",
          name: seriesNames[0],
          xAxisIndex: 0,
          yAxisIndex: 0,
          data: pairs(timeTop, rx1Ch1),
          symbol: "none",
          showSymbol: false,
          clip: true,
          lineStyle: { color: BLUE, width: 1 },
          itemStyle: { color: BLUE },
          z: 2,
        },
        {
          type: "line",
          name: seriesNames[1],
          xAxisIndex: 0,
          yAxisIndex: 0,
          data: pairs(timeTop, rx1Ch2),
          symbol: "none",
          showSymbol: false,
          clip: true,
          lineStyle: { color: ORANGE, width: 1 },
          itemStyle: { color: ORANGE },
          z: 3,
        },
        {
          type: "line",
          name: "Difference",
          xAxisIndex: 2,
          yAxisIndex: 2,
          data: pairs(timeDiff, powerDiff),
          symbol: "none",
          showSymbol: false,
          clip: true,
          lineStyle: { color: BLUE, width: 1 },
          itemStyle: { color: BLUE },
          z: 2,
        },
      ],
    };
    chart.setOption(option);
    return () => chart.dispose();
  }, []);

  return (
    <div
      ref={ref}
      style={{ position: "fixed", left: 0, top: 0, width: 1239, height: 821 }}
    />
  );
}
